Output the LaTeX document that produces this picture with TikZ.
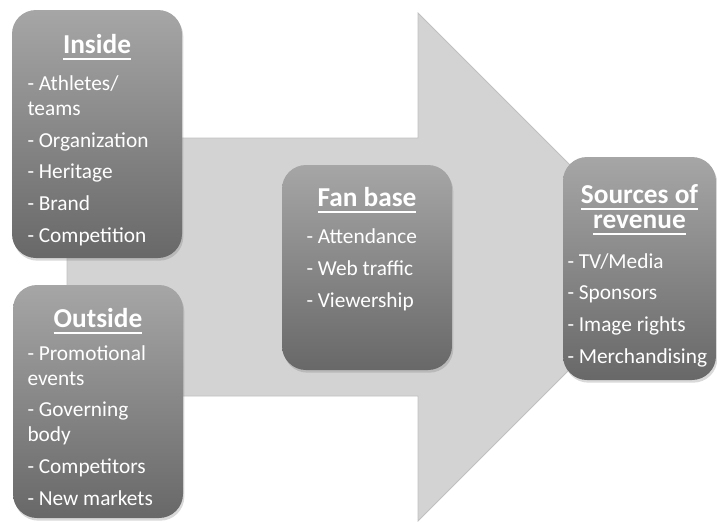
\documentclass[tikz,border=0pt]{standalone}
\usepackage{fontspec}
\setmainfont{Carlito}
\usetikzlibrary{shadows}

\definecolor{arrowgray}{RGB}{211,211,211}
\definecolor{arrowedge}{RGB}{192,192,192}
\definecolor{boxtop}{RGB}{166,166,166}
\definecolor{boxbottom}{RGB}{104,104,104}

\newcommand{\titleline}[1]{\vtop{\hbox{#1}\kern3.3pt\hrule height 1.5pt}}
\newcommand{\itemgap}{4.9pt}

\tikzset{every picture/.style={line width=0.75pt}}
\tikzset{
  box/.style={rounded corners=18pt, top color=boxtop, bottom color=boxbottom, draw=none, inner sep=0pt,
    drop shadow={shadow xshift=1pt, shadow yshift=-2pt, opacity=0.3}},
  boxtitle/.style={text=white, font=\fontsize{20.5}{18.75}\selectfont\bfseries, align=center, inner sep=0pt, anchor=base},
  boxtext/.style={text=white, font=\fontsize{16}{18.75}\selectfont, align=left, inner sep=0pt, anchor=base west}
}

\begin{document}
\begin{tikzpicture}[x=0.75pt,y=0.75pt,yscale=-1,xscale=1]
\useasboundingbox (0,0) rectangle (717,522);

%Shape: Right Arrow [id:bigarrow]
\draw [draw=arrowedge, fill=arrowgray, line width=0.6]  (67,138) -- (418,138) -- (418,13) -- (672,267) -- (418,521) -- (418,396) -- (67,396) -- cycle ;

%Shape: Rounded Rect [id:inside]
\node [box, minimum width=127.5pt, minimum height=186pt] (inside) at (97,134) {};
%Shape: Rounded Rect [id:outside]
\node [box, minimum width=127.5pt, minimum height=174.75pt] (outside) at (98,401.5) {};
%Shape: Rounded Rect [id:fanbase]
\node [box, minimum width=127.5pt, minimum height=153.75pt] (fanbase) at (367,267.5) {};
%Shape: Rounded Rect [id:revenue]
\node [box, minimum width=114.75pt, minimum height=167.25pt] (revenue) at (639.5,268.5) {};

% Text Node
\node [boxtitle] (insideTitle) at (97,53) {\titleline{Inside}};
% Text Node
\node [boxtext] (insideList) at (27,242) {- Athletes/\\teams\\[\itemgap]- Organization\\[\itemgap]- Heritage\\[\itemgap]- Brand\\[\itemgap]- Competition};
% Text Node
\node [boxtitle] (outsideTitle) at (98,327) {\titleline{Outside}};
% Text Node
\node [boxtext] (outsideList) at (27,505) {- Promotional\\events\\[\itemgap]- Governing\\body\\[\itemgap]- Competitors\\[\itemgap]- New markets};
% Text Node
\node [boxtitle] (fanbaseTitle) at (367,206) {\titleline{Fan base}};
% Text Node
\node [boxtext] (fanbaseList) at (306,307) {- Attendance\\[\itemgap]- Web traffic\\[\itemgap]- Viewership};
% Text Node
\node [boxtitle] (revenueTitle) at (639.5,228) {\titleline{Sources of}\\\titleline{revenue}};
% Text Node
\node [boxtext] (revenueList) at (567,363) {- TV/Media\\[\itemgap]- Sponsors\\[\itemgap]- Image rights\\[\itemgap]- Merchandising};

\end{tikzpicture}
\end{document}
